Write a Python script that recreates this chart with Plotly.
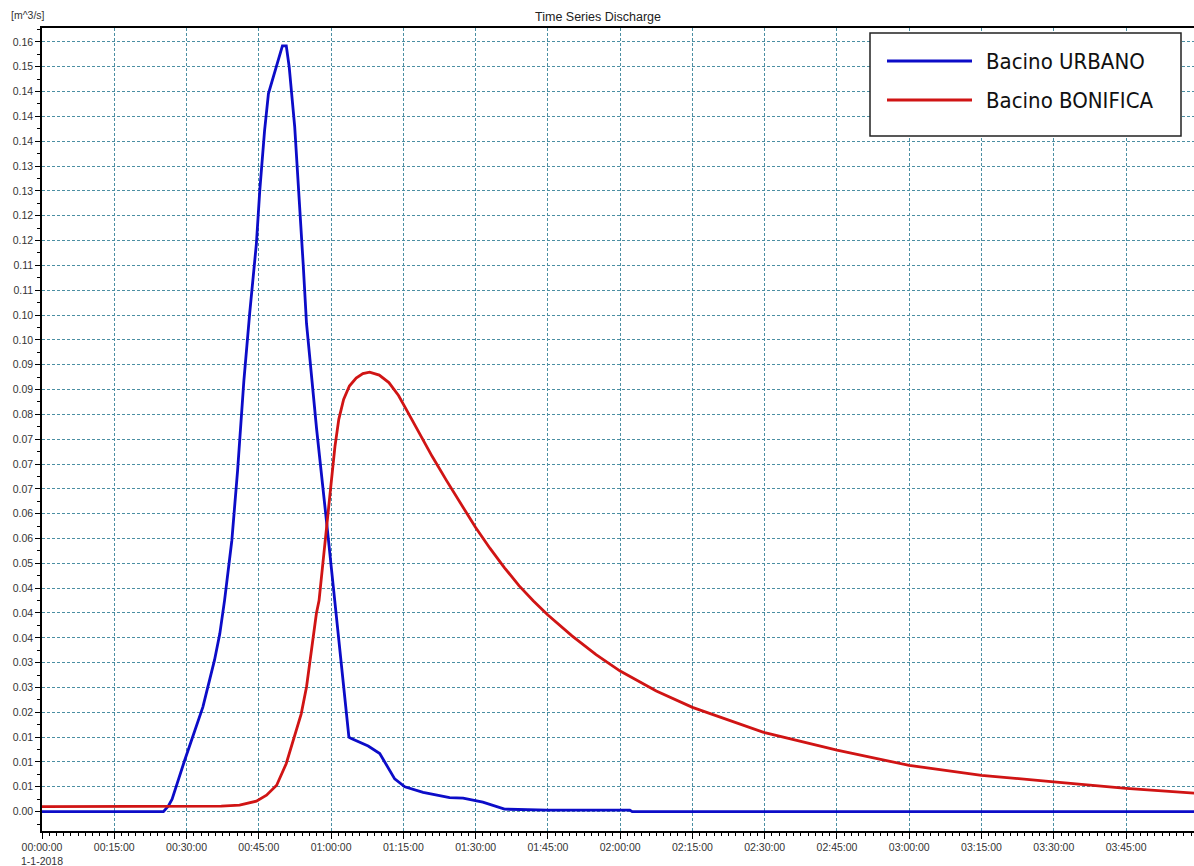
import plotly.graph_objects as go

# ---- data -------------------------------------------------------------
# time in minutes after 1-1-2018 00:00:00, discharge in m^3/s
urbano_t = [0, 25.2, 26.2, 27.0, 29.6, 33.4, 35.8, 36.9, 37.9, 39.4, 40.6, 41.9,
            43.1, 44.5, 45.2, 46.2, 47.0, 49.9, 50.7, 51.3, 52.45, 53.3, 54.2,
            54.9, 57.0, 59.1, 60.8, 62.2, 63.7, 64.2, 67.7, 70.1, 73.2, 75.3,
            79.1, 84.6, 87.4, 91.5, 96.0, 105.0, 122.0, 122.5, 239.5]
urbano_q = [0.0, 0.0, 0.0011, 0.0025, 0.0103, 0.0211, 0.0305, 0.0358, 0.0426,
            0.0546, 0.0687, 0.0868, 0.1003, 0.1144, 0.1251, 0.1372, 0.1446,
            0.1542, 0.1542, 0.1500, 0.1379, 0.1251, 0.1104, 0.0983, 0.0770,
            0.0580, 0.0425, 0.0291, 0.0150, 0.0147, 0.0132, 0.0117, 0.0066,
            0.0050, 0.0039, 0.0028, 0.0027, 0.0019, 0.0005, 0.0003, 0.0003,
            0.0, 0.0]

bonifica_t = [0, 35.0, 37.2, 41.0, 44.5, 46.6, 48.7, 50.7, 52.4, 53.8, 54.9,
              55.9, 56.95, 57.5, 59.1, 60.0, 60.8, 61.6, 62.6, 63.8, 65.2, 66.6,
              68.0, 70.0, 72.0, 74.0, 76.0, 78.0, 81.0, 84.0, 87.0, 90.0, 93.0,
              96.0, 99.0, 102.0, 105.0, 110.0, 115.0, 120.0, 127.5, 135.0,
              150.0, 165.0, 180.0, 195.0, 210.0, 225.0, 239.5]
bonifica_q = [0.0010, 0.0010, 0.0011, 0.0013, 0.0021, 0.0033, 0.0053, 0.0097,
              0.0150, 0.0197, 0.0251, 0.0325, 0.0399, 0.0425, 0.0567, 0.0660,
              0.0735, 0.0790, 0.0830, 0.0857, 0.0873, 0.0882, 0.0885, 0.0879,
              0.0864, 0.0838, 0.0803, 0.0768, 0.0715, 0.0666, 0.0618, 0.0572,
              0.0530, 0.0491, 0.0455, 0.0424, 0.0396, 0.0354, 0.0316, 0.0283,
              0.0243, 0.0210, 0.0159, 0.0124, 0.0093, 0.0073, 0.0060, 0.0047,
              0.0037]

x_tick_labels = ["00:00:00<br>1-1-2018", "00:15:00", "00:30:00", "00:45:00",
                 "01:00:00", "01:15:00", "01:30:00", "01:45:00", "02:00:00",
                 "02:15:00", "02:30:00", "02:45:00", "03:00:00", "03:15:00",
                 "03:30:00", "03:45:00"]
y_tick_labels = ["0.00", "0.01", "0.01", "0.01", "0.02", "0.03", "0.03", "0.04",
                 "0.04", "0.04", "0.05", "0.06", "0.06", "0.07", "0.07", "0.07",
                 "0.08", "0.09", "0.09", "0.10", "0.10", "0.11", "0.11", "0.12",
                 "0.12", "0.13", "0.13", "0.14", "0.14", "0.14", "0.15", "0.16"]

series_names = ["Bacino URBANO", "Bacino BONIFICA"]
series_colors = ["#0c0cc8", "#d01414"]

# ---- layout geometry ---------------------------------------------------
W, H = 1194, 866
ML, MR, MT, MB = 42, 0, 28, 35
PW, PH = W - ML - MR, H - MT - MB

x_step = 15.0
y_step = 0.005
x_vals = [i * x_step for i in range(len(x_tick_labels))]
y_vals = [i * y_step for i in range(len(y_tick_labels))]


def px(xp):
    return (xp - ML) / PW


def py(yp):
    return (H - MB - yp) / PH


fig = go.Figure()
for t, q, name, col in zip([urbano_t, bonifica_t], [urbano_q, bonifica_q],
                           series_names, series_colors):
    fig.add_trace(go.Scatter(x=t, y=q, mode="lines", name=name,
                             line=dict(color=col, width=2.8),
                             showlegend=False))

grid_col = "#4b8fa3"
tick_font = dict(family="Liberation Sans, Arial, sans-serif", size=10.5,
                 color="#333333")

fig.update_layout(
    width=W, height=H, autosize=False,
    margin=dict(l=ML, r=MR, t=MT, b=MB, pad=0),
    paper_bgcolor="white", plot_bgcolor="white",
    title=dict(text="Time Series Discharge", x=(598 - ML) / PW, xref="paper",
               xanchor="center", y=1 - 17 / H, yanchor="middle",
               font=dict(family="Liberation Sans, Arial, sans-serif",
                         size=12.5, color="#222222")),
    xaxis=dict(
        range=[0, 239.1], tickmode="array", tickvals=x_vals,
        ticktext=x_tick_labels, tickfont=tick_font,
        showline=True, linecolor="black", linewidth=1.5, mirror=True,
        ticks="outside", ticklen=6, tickcolor="black", tickwidth=1,
        showgrid=True, gridcolor=grid_col, gridwidth=1, griddash="3px,2px",
        zeroline=False,
        minor=dict(tickmode="linear", tick0=0, dtick=1.5, ticks="outside",
                   ticklen=3, tickcolor="black", tickwidth=1, showgrid=False),
    ),
    yaxis=dict(
        range=[-0.0039, 0.1578], tickmode="array", tickvals=y_vals,
        ticktext=y_tick_labels, tickfont=tick_font,
        showline=True, linecolor="black", linewidth=1.5, mirror=False,
        ticks="outside", ticklen=5, tickcolor="black", tickwidth=1,
        showgrid=True, gridcolor=grid_col, gridwidth=1, griddash="3px,2px",
        zeroline=False,
        minor=dict(tickmode="linear", tick0=0, dtick=0.0025, ticks="outside",
                   ticklen=3, tickcolor="black", tickwidth=1, showgrid=False),
    ),
)

# unit label above the value axis
fig.add_annotation(text="[m^3/s]", xref="paper", yref="paper",
                   x=px(9), y=py(15), xanchor="left", yanchor="middle",
                   showarrow=False,
                   font=dict(family="Liberation Sans, Arial, sans-serif",
                             size=10.5, color="#333333"))

# boxed legend with long line samples
fig.add_shape(type="rect", xref="paper", yref="paper",
              x0=px(870), x1=px(1181), y0=py(136), y1=py(33),
              line=dict(color="#222222", width=1.5), fillcolor="white",
              layer="above")
for i, (name, col) in enumerate(zip(series_names, series_colors)):
    yrow = 61 + i * 39
    fig.add_shape(type="line", xref="paper", yref="paper",
                  x0=px(887), x1=px(972), y0=py(yrow), y1=py(yrow),
                  line=dict(color=col, width=3), layer="above")
    fig.add_annotation(text=name, xref="paper", yref="paper",
                       x=px(984), y=py(yrow), xanchor="left", yanchor="middle",
                       showarrow=False,
                       font=dict(family="DejaVu Sans Condensed, Liberation Sans Narrow, sans-serif",
                                 size=22, color="#111111"))

fig.write_html("out.html")
